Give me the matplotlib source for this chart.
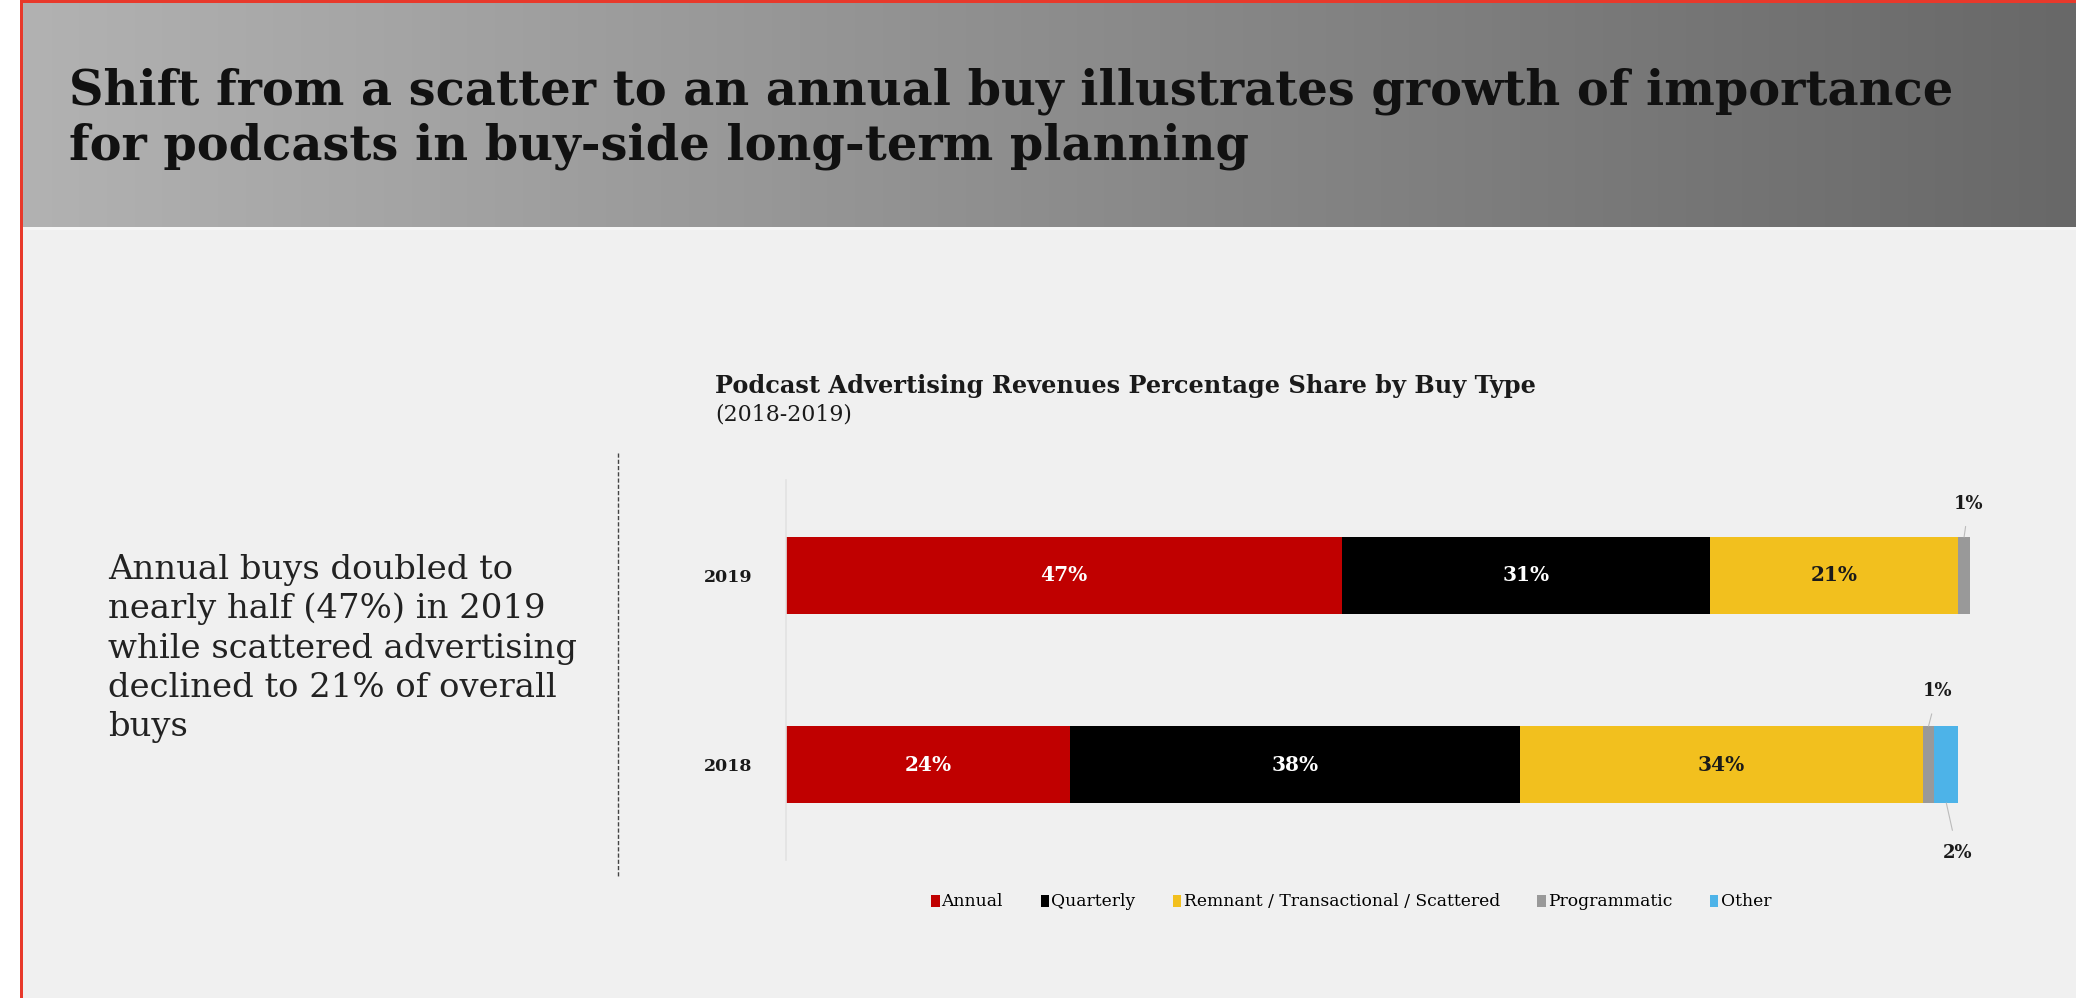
import numpy as np
import matplotlib
matplotlib.use("Agg")
import matplotlib.pyplot as plt
from matplotlib.patches import Rectangle, Patch

# ---- data -------------------------------------------------------------
years = ["2018", "2019"]
buy_types = ["Annual", "Quarterly", "Remnant / Transactional / Scattered",
             "Programmatic", "Other"]
annual = [24, 47]
quarterly = [38, 31]
remnant = [34, 21]
programmatic = [1, 1]
other = [2, 0]
series = [annual, quarterly, remnant, programmatic, other]
colors = ["#c00000", "#000000", "#f2c01e", "#999999", "#4db3e8"]
label_colors = ["white", "white", "#1a1a1a", None, None]

title_lines = ["Shift from a scatter to an annual buy illustrates growth of importance",
               "for podcasts in buy-side long-term planning"]
chart_title = "Podcast Advertising Revenues Percentage Share by Buy Type"
chart_subtitle = "(2018-2019)"
side_lines = ["Annual buys doubled to", "nearly half (47%) in 2019",
              "while scattered advertising", "declined to 21% of overall", "buys"]

plt.rcParams["font.family"] = ["DejaVu Serif"]

W, H = 2076, 998
fig = plt.figure(figsize=(W / 100, H / 100), dpi=100, facecolor="white")

# ---- page background, header band and frame (pixel coordinates) --------
bg = fig.add_axes([0, 0, 1, 1], zorder=0)
bg.axis("off")
bg.add_patch(Rectangle((22, 3), W - 22, H - 3, color="#f0f0f0", lw=0, zorder=0))
grad = np.linspace(178, 104, 512) / 255.0
grad_img = np.stack([grad, grad, grad], axis=-1)[None, :, :]
bg.imshow(grad_img, extent=(22, W, 227, 3), aspect="auto",
          interpolation="bilinear", zorder=1)
bg.add_patch(Rectangle((22, 227), W - 22, 3, color="#f6f6f6", lw=0, zorder=2))
bg.add_patch(Rectangle((20, 0), 3, H, color="#e8392b", lw=0, zorder=3))
bg.add_patch(Rectangle((20, 0), W - 20, 3, color="#e8392b", lw=0, zorder=3))
bg.set_xlim(0, W)
bg.set_ylim(H, 0)

renderer = fig.canvas.get_renderer()


def fit_width(txt, target_px):
    bb = txt.get_window_extent(renderer)
    txt.set_fontsize(txt.get_fontsize() * target_px / bb.width)
    return txt.get_fontsize()


# header title
t1 = bg.text(69, 104, title_lines[0], fontsize=30, fontweight="bold",
             color="#111111", va="baseline", ha="left", zorder=5)
fs = fit_width(t1, 1881)
bg.text(69, 159, title_lines[1], fontsize=fs, fontweight="bold",
        color="#111111", va="baseline", ha="left", zorder=5)

# chart title
ct = bg.text(715, 393, chart_title, fontsize=14, fontweight="bold",
             color="#1a1a1a", va="baseline", ha="left", zorder=5)
cfs = fit_width(ct, 818)
bg.text(715, 421, chart_subtitle, fontsize=cfs * 0.92, color="#1a1a1a",
        va="baseline", ha="left", zorder=5)

# side commentary
probe = bg.text(108, 0, side_lines[2], fontsize=20, color="#222222")
sfs = fit_width(probe, 469)
probe.remove()
for i, line in enumerate(side_lines):
    bg.text(108, 579 + i * 39.3, line, fontsize=sfs, color="#222222",
            va="baseline", ha="left", zorder=5)

# dashed divider
bg.plot([618, 618], [453, 877], color="#444444", lw=1.0,
        linestyle=(0, (3, 1.5)), zorder=5)
bg.set_xlim(0, W)
bg.set_ylim(H, 0)

# ---- stacked bar chart --------------------------------------------------
ax = fig.add_axes([786 / W, (H - 860) / H, 1184 / W, 380 / H], zorder=2)
ax.set_facecolor("none")
y = np.arange(len(years))
left = np.zeros(len(years))
bar_h = 0.407
small_offsets = {(3, 1): (3.5, 24), (3, 0): (6.5, 25), (4, 0): (8, -36)}

for k, (vals, name, col) in enumerate(zip(series, buy_types, colors)):
    vals = np.array(vals, dtype=float)
    ax.barh(y, vals, left=left, height=bar_h, color=col, label=name, lw=0)
    for j, v in enumerate(vals):
        if v <= 0:
            continue
        cx = left[j] + v / 2
        if v >= 5:
            ax.text(cx, y[j], f"{int(v)}%", ha="center", va="center",
                    fontsize=14.5, fontweight="bold", color=label_colors[k])
        else:
            dx, dy = small_offsets[(k, j)]
            edge = y[j] + bar_h / 2 if dy > 0 else y[j] - bar_h / 2
            ax.annotate(f"{int(v)}%", xy=(cx, edge), xytext=(dx, dy),
                        textcoords="offset points", ha="center", va="center",
                        fontsize=13, fontweight="bold", color="#1a1a1a",
                        arrowprops=dict(arrowstyle="-", color="#bbbbbb",
                                        lw=0.8, shrinkA=8, shrinkB=0))
    left += vals

ax.set_xlim(0, 100)
ax.set_ylim(-0.505, 1.505)
ax.set_yticks(y)
ax.set_yticklabels(years, fontsize=12.5, fontweight="bold", color="#1a1a1a")
ax.tick_params(axis="y", length=0, pad=24)
ax.set_xticks([])
for s in ["top", "right", "bottom"]:
    ax.spines[s].set_visible(False)
ax.spines["left"].set_color("#e2e2e2")
ax.spines["left"].set_linewidth(1.2)

handles = [Patch(facecolor=c, edgecolor="none") for c in colors]
fig.legend(handles, buy_types, loc="center", bbox_to_anchor=(1351 / W, 1 - 902 / H),
           ncol=5, frameon=False, handlelength=0.5, handleheight=0.7,
           handletextpad=0.12, columnspacing=2.2,
           prop={"family": "DejaVu Serif", "size": 12.3})

fig.savefig("out.png", dpi=100, facecolor=fig.get_facecolor())
